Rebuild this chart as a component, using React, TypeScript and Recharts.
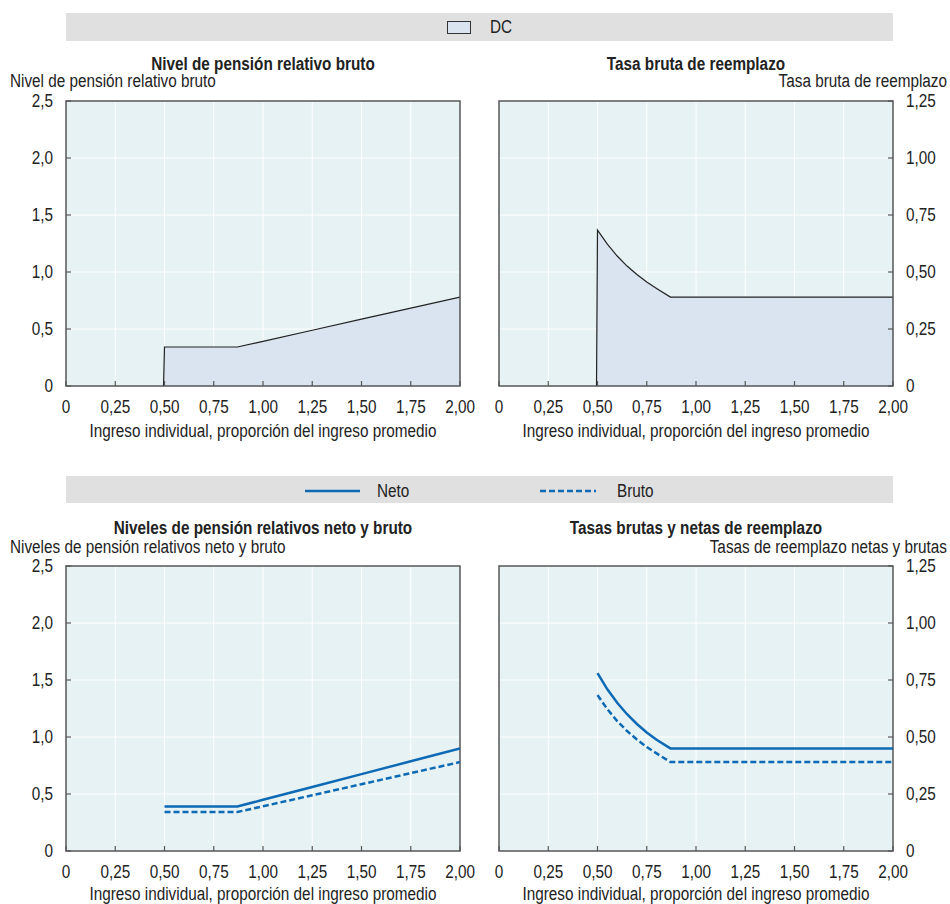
import React from 'react';
import { ComposedChart, Area, Line, XAxis, YAxis, CartesianGrid, ReferenceArea } from 'recharts';

// individual earnings, share of average earnings
const earnings = [0.5, 0.55, 0.6, 0.65, 0.7, 0.75, 0.8, 0.87, 1.0, 1.25, 1.5, 1.75, 2.0];
const grossLevel = [0.342, 0.342, 0.342, 0.342, 0.342, 0.342, 0.342, 0.342, 0.392, 0.489, 0.586, 0.683, 0.78];
const netLevel = [0.39, 0.39, 0.39, 0.39, 0.39, 0.39, 0.39, 0.39, 0.449, 0.562, 0.674, 0.787, 0.9];
const grossRate = [0.684, 0.622, 0.57, 0.526, 0.489, 0.456, 0.428, 0.39, 0.39, 0.39, 0.39, 0.39, 0.39];
const netRate = [0.78, 0.709, 0.65, 0.6, 0.557, 0.52, 0.488, 0.45, 0.45, 0.45, 0.45, 0.45, 0.45];
const dcStart = 0.495;

const xTicks = [0, 0.25, 0.5, 0.75, 1, 1.25, 1.5, 1.75, 2];
const levelTicks = [0, 0.5, 1, 1.5, 2, 2.5];
const rateTicks = [0, 0.25, 0.5, 0.75, 1, 1.25];

const topData = [
  { x: dcStart, grossLevel: 0, grossRate: 0 },
  ...earnings.map((x, i) => ({ x, grossLevel: grossLevel[i], grossRate: grossRate[i] })),
];
const bottomData = earnings.map((x, i) => ({
  x,
  grossLevel: grossLevel[i],
  netLevel: netLevel[i],
  grossRate: grossRate[i],
  netRate: netRate[i],
}));

// Arial Narrow look-alike: Liberation Sans squeezed horizontally
const FONT = "'Liberation Sans', Arial, sans-serif";
const NARROW = 0.85;
const FS = 18;
const TEXT = '#222';
const AXIS = '#555';
const BLUE = '#0e6ab4';
const PLOT_BG = '#e6f2f3';
const AREA_FILL = '#dae4f0';

const fmt = (d: number) => (v: number) => (v === 0 ? '0' : v.toFixed(d).replace('.', ','));

const NarrowText = ({ x, y, anchor, children }: any) => (
  <text
    transform={`translate(${x},${y}) scale(${NARROW},1)`}
    textAnchor={anchor}
    fontSize={FS}
    fill={TEXT}
    fontFamily={FONT}
  >
    {children}
  </text>
);

const XTick = (props: any) => {
  const { x, y, payload } = props;
  return (
    <g>
      <line x1={x} x2={x} y1={y} y2={y - 5} stroke={AXIS} strokeWidth={1.2} />
      <NarrowText x={x} y={y + 27} anchor="middle">{fmt(2)(payload.value)}</NarrowText>
    </g>
  );
};

const YTickLeft = (props: any) => {
  const { x, y, payload } = props;
  return (
    <g>
      <line x1={x} x2={x + 5} y1={y} y2={y} stroke={AXIS} strokeWidth={1.2} />
      <NarrowText x={x - 13} y={y + 6} anchor="end">{fmt(1)(payload.value)}</NarrowText>
    </g>
  );
};

const YTickRight = (props: any) => {
  const { x, y, payload } = props;
  return (
    <g>
      <line x1={x} x2={x - 5} y1={y} y2={y} stroke={AXIS} strokeWidth={1.2} />
      <NarrowText x={x + 13} y={y + 6} anchor="start">{fmt(2)(payload.value)}</NarrowText>
    </g>
  );
};

const Label = ({ x, y, text, align = 'center', bold = false }: any) => {
  const w = 500;
  const left = align === 'center' ? x - w / 2 : align === 'left' ? x : x - w;
  const origin = align === 'center' ? 'center' : align === 'left' ? 'left' : 'right';
  return (
    <div
      style={{
        position: 'absolute',
        left,
        top: y - 6,
        width: w,
        height: 12,
        lineHeight: '12px',
        textAlign: align,
        fontFamily: FONT,
        fontSize: FS,
        fontWeight: bold ? 'bold' : 'normal',
        color: TEXT,
        whiteSpace: 'nowrap',
        transform: `scaleX(${NARROW})`,
        transformOrigin: origin,
      }}
    >
      {text}
    </div>
  );
};

const Panel = ({ side, top, data, children }: any) => {
  const isLeft = side === 'left';
  const yMax = isLeft ? 2.5 : 1.25;
  return (
    <div style={{ position: 'absolute', left: isLeft ? 0 : 480, top }}>
      <ComposedChart
        width={isLeft ? 480 : 470}
        height={326}
        data={data}
        margin={isLeft ? { top: 11, right: 20, bottom: 0, left: 16 } : { top: 11, right: 7, bottom: 0, left: 19 }}
      >
        <CartesianGrid fill={PLOT_BG} stroke="#ffffff" strokeWidth={1} />
        <XAxis
          type="number"
          dataKey="x"
          domain={[0, 2]}
          ticks={xTicks}
          tick={<XTick />}
          tickSize={0}
          tickMargin={0}
          tickLine={false}
          axisLine={false}
          height={30}
          allowDataOverflow
        />
        <YAxis
          orientation={isLeft ? 'left' : 'right'}
          type="number"
          domain={[0, yMax]}
          ticks={isLeft ? levelTicks : rateTicks}
          tick={isLeft ? <YTickLeft /> : <YTickRight />}
          tickSize={0}
          tickMargin={0}
          tickLine={false}
          axisLine={false}
          width={50}
          allowDataOverflow
        />
        {children}
        <ReferenceArea x1={0} x2={2} y1={0} y2={yMax} fill="none" stroke={AXIS} strokeWidth={1.5} ifOverflow="visible" />
      </ComposedChart>
    </div>
  );
};

export default function App() {
  const xTitle = 'Ingreso individual, proporción del ingreso promedio';
  return (
    <div style={{ position: 'absolute', left: 0, top: 0, width: 950, height: 904, overflow: 'hidden', background: '#fff' }}>
      {/* legend 1 */}
      <div style={{ position: 'absolute', left: 66, top: 13, width: 827, height: 28, background: '#e0e0e0' }} />
      <div style={{ position: 'absolute', left: 447, top: 21, width: 22, height: 11, background: AREA_FILL, border: '1px solid #333' }} />
      <Label x={490} y={27} text="DC" align="left" />

      <Label x={263} y={64} text="Nivel de pensión relativo bruto" bold />
      <Label x={10} y={81} text="Nivel de pensión relativo bruto" align="left" />
      <Label x={696} y={64} text="Tasa bruta de reemplazo" bold />
      <Label x={947} y={81} text="Tasa bruta de reemplazo" align="right" />

      <Panel side="left" top={90} data={topData}>
        <Area type="linear" dataKey="grossLevel" fill={AREA_FILL} fillOpacity={1} stroke="#222" strokeWidth={1.2} isAnimationActive={false} />
      </Panel>
      <Panel side="right" top={90} data={topData}>
        <Area type="linear" dataKey="grossRate" fill={AREA_FILL} fillOpacity={1} stroke="#222" strokeWidth={1.2} isAnimationActive={false} />
      </Panel>
      <Label x={263} y={431} text={xTitle} />
      <Label x={696} y={431} text={xTitle} />

      {/* legend 2 */}
      <div style={{ position: 'absolute', left: 66, top: 476, width: 827, height: 27, background: '#e0e0e0' }} />
      <svg style={{ position: 'absolute', left: 300, top: 480 }} width={320} height={20}>
        <line x1={5} x2={60} y1={11} y2={11} stroke={BLUE} strokeWidth={2.5} />
        <line x1={240} x2={296} y1={11} y2={11} stroke={BLUE} strokeWidth={2.5} strokeDasharray="6 3" />
      </svg>
      <Label x={377} y={491} text="Neto" align="left" />
      <Label x={617} y={491} text="Bruto" align="left" />

      <Label x={263} y={528} text="Niveles de pensión relativos neto y bruto" bold />
      <Label x={10} y={547} text="Niveles de pensión relativos neto y bruto" align="left" />
      <Label x={696} y={528} text="Tasas brutas y netas de reemplazo" bold />
      <Label x={947} y={547} text="Tasas de reemplazo netas y brutas" align="right" />

      <Panel side="left" top={555} data={bottomData}>
        <Line type="linear" dataKey="netLevel" stroke={BLUE} strokeWidth={2.5} dot={false} isAnimationActive={false} />
        <Line type="linear" dataKey="grossLevel" stroke={BLUE} strokeWidth={2.5} strokeDasharray="6 3" dot={false} isAnimationActive={false} />
      </Panel>
      <Panel side="right" top={555} data={bottomData}>
        <Line type="linear" dataKey="netRate" stroke={BLUE} strokeWidth={2.5} dot={false} isAnimationActive={false} />
        <Line type="linear" dataKey="grossRate" stroke={BLUE} strokeWidth={2.5} strokeDasharray="6 3" dot={false} isAnimationActive={false} />
      </Panel>
      <Label x={263} y={894} text={xTitle} />
      <Label x={696} y={894} text={xTitle} />
    </div>
  );
}
